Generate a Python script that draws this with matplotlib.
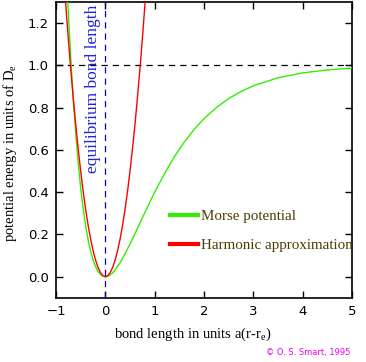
import matplotlib
matplotlib.use("Agg")
import matplotlib.pyplot as plt

# values
morse_x = [-0.8, -0.76, -0.75, -0.7, -0.65, -0.6, -0.55, -0.5, -0.45, -0.4, -0.35, -0.3,
           -0.25, -0.2, -0.15, -0.1, -0.05, 0.0, 0.05, 0.1, 0.15, 0.2, 0.25, 0.3, 0.4,
           0.5, 0.6, 0.7, 0.8, 0.9, 1.0, 1.2, 1.4, 1.6, 1.8, 2.0, 2.25, 2.5, 2.75, 3.0,
           3.5, 4.0, 4.5, 5.0]
morse_y = [1.502, 1.296, 1.248, 1.028, 0.838, 0.676, 0.538, 0.421, 0.323, 0.242, 0.176, 0.122,
           0.081, 0.049, 0.026, 0.011, 0.003, 0.0, 0.002, 0.009, 0.019, 0.033, 0.049, 0.067, 0.109,
           0.155, 0.204, 0.253, 0.303, 0.352, 0.400, 0.488, 0.568, 0.637, 0.697, 0.748, 0.800, 0.843, 0.876, 0.903,
           0.941, 0.964, 0.978, 0.987]

harm_x = [-0.85, -0.8, -0.75, -0.7, -0.65, -0.6, -0.55, -0.5, -0.45, -0.4, -0.35, -0.3, -0.25,
          -0.2, -0.15, -0.1, -0.05, 0.0, 0.05, 0.1, 0.15, 0.2, 0.25, 0.3, 0.35, 0.4, 0.45,
          0.5, 0.55, 0.6, 0.65, 0.7, 0.75, 0.8, 0.85]
harm_y = [1.445, 1.28, 1.125, 0.98, 0.845, 0.72, 0.605, 0.5, 0.405, 0.32, 0.245, 0.18, 0.125,
          0.08, 0.045, 0.02, 0.005, 0.0, 0.005, 0.02, 0.045, 0.08, 0.125, 0.18, 0.245, 0.32, 0.405,
          0.5, 0.605, 0.72, 0.845, 0.98, 1.125, 1.28, 1.445]

x_ticks = [-1, 0, 1, 2, 3, 4, 5]
y_ticks = [0.0, 0.2, 0.4, 0.6, 0.8, 1.0, 1.2]

fig = plt.figure(figsize=(3.66, 3.62), dpi=100)
ax = fig.add_axes([0.153, 0.177, 0.809, 0.818])

ax.plot(morse_x, morse_y, color="#33ee00", lw=1.0, label="Morse potential", zorder=3)
ax.plot(harm_x, harm_y, color="#ff0000", lw=1.0, label="Harmonic approximation", zorder=3)

ax.axhline(1.0, color="black", lw=0.9, ls=(0, (5, 4)), zorder=2)
ax.axvline(0.0, color="#0000cc", lw=0.9, ls=(0, (5, 4)), zorder=2)

ax.text(-0.26, 0.89, "equilibrium bond length", rotation=90, ha="center", va="center",
        color="#2222dd", fontsize=12.5, family="Liberation Serif")

ax.set_xlim(-1, 5)
ax.set_ylim(-0.1, 1.3)
ax.set_xticks(x_ticks)
ax.set_yticks(y_ticks)
ax.set_xticklabels([str(t).replace("-", "\u2212") for t in x_ticks])
ax.set_yticklabels(["%.1f" % t for t in y_ticks])
ax.tick_params(direction="in", top=True, right=True, length=5, width=1,
               labelsize=9.5, pad=5)
for lab in ax.get_xticklabels() + ax.get_yticklabels():
    lab.set_family("DejaVu Sans")
for s in ax.spines.values():
    s.set_linewidth(1.2)

ax.set_xlabel(r"bond length in units a(r-r$\mathregular{_e}$)", family="Liberation Serif",
              fontsize=10.5)
ax.set_ylabel(r"potential energy in units of D$\mathregular{_e}$", family="Liberation Serif",
              fontsize=10.5)
ax.xaxis.set_label_coords(0.463, -0.093)
ax.yaxis.set_label_coords(-0.125, 0.49)

leg = ax.legend(loc="upper left", bbox_to_anchor=(0.34, 0.345), frameon=False,
                handlelength=1.85, handletextpad=0.2, labelspacing=1.05,
                prop={"family": "Liberation Serif", "size": 10.8}, labelcolor="#4a3c00")
for line in leg.get_lines():
    line.set_linewidth(3)

fig.text(0.957, 0.015, "\u00a9 O. S. Smart, 1995", ha="right", va="bottom",
         color="#ee00ee", fontsize=6, family="DejaVu Sans")

fig.savefig("out.png", dpi=100)
